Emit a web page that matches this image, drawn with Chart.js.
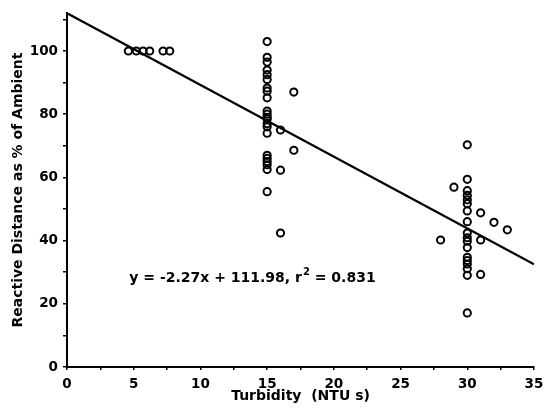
<!DOCTYPE html>
<html>
<head>
<meta charset="utf-8">
<script src="https://cdn.jsdelivr.net/npm/chart.js@4.4.0/dist/chart.umd.min.js"></script>
<style>
  html, body { margin: 0; padding: 0; background: #fff; }
  #wrap { width: 553px; height: 419px; }
</style>
</head>
<body>
<div id="wrap"><canvas id="turbChart" width="553" height="419"></canvas></div>
<script>
// Observations: turbidity (NTU) vs reactive distance (% of ambient)
const turbidity = [
    4.6, 5.2, 5.7, 6.2, 7.2, 7.7,
    15, 15, 15, 15, 15, 15, 15, 15, 15, 15, 15, 15, 15, 15, 15, 15, 15, 15, 15, 15, 15, 15,
    16, 16, 16, 17, 17,
    30, 30, 30, 30, 30, 30, 30, 30, 30, 30, 30, 30, 30, 30, 30, 30, 30, 30,
    28, 29, 31, 31, 31, 32, 33
];
const reactiveDistance = [
    100, 100, 100, 100, 100, 100,
    103, 98, 96.5, 94, 92.5, 91, 88.3, 87.3, 85.2, 81, 80, 79, 78.5, 77, 76, 74, 67, 66, 65, 64, 62.5, 55.5,
    75, 62.3, 42.4, 87, 68.6,
    70.3, 59.4, 55.8, 54.3, 52.9, 51.7, 49.4, 46, 42.4, 40.9, 39.8, 37.8, 34.7, 33.7, 32.6, 31.1, 29, 17.1,
    40.2, 56.9, 48.8, 40.2, 29.3, 45.8, 43.4
];

// Fitted line: y = -2.27x + 111.98
const fitSlope = -2.27;
const fitIntercept = 111.98;
const fitRange = [0, 35];
const fitText = ['y = -2.27x + 111.98, r', '2', ' = 0.831'];

const xTickLabels = [0, 5, 10, 15, 20, 25, 30, 35];
const yTickLabels = [0, 20, 40, 60, 80, 100];

const points = turbidity.map((t, i) => ({ x: t, y: reactiveDistance[i] }));
const fitLine = fitRange.map(x => ({ x: x, y: fitSlope * x + fitIntercept }));

const FONT = 'DejaVu Sans';
const labelFont = { family: FONT, size: 13.5, weight: 'bold' };
const titleFont = { family: FONT, size: 14, weight: 'bold' };

// equation label, anchored in data units, with a raised "2"
const equationText = {
    id: 'equationText',
    afterDraw(chart) {
        const c = chart.ctx;
        const cx = chart.scales.x.getPixelForValue(13.9);
        const cy = chart.scales.y.getPixelForValue(27.9);
        c.save();
        c.fillStyle = '#000';
        c.textBaseline = 'middle';
        c.textAlign = 'left';
        const big = 'bold 14px "DejaVu Sans"';
        const small = 'bold 10px "DejaVu Sans"';
        c.font = big;
        const w0 = c.measureText(fitText[0]).width;
        const w2 = c.measureText(fitText[2]).width;
        c.font = small;
        const w1 = c.measureText(fitText[1]).width + 1;
        let x = cx - (w0 + w1 + w2) / 2;
        c.font = big;
        c.fillText(fitText[0], x, cy);
        x += w0 + 1;
        c.font = small;
        c.fillText(fitText[1], x, cy - 6);
        x += w1 - 1;
        c.font = big;
        c.fillText(fitText[2], x, cy);
        c.restore();
    }
};

const ctx = document.getElementById('turbChart').getContext('2d');
const turbChart = new Chart(ctx, {
    type: 'scatter',
    data: {
        datasets: [{
            label: 'Observations',
            data: points,
            pointStyle: 'circle',
            pointRadius: 3.6,
            pointBorderWidth: 2,
            borderColor: '#000',
            backgroundColor: 'rgba(0,0,0,0)'
        }, {
            type: 'line',
            label: 'Fit',
            data: fitLine,
            borderColor: '#000',
            borderWidth: 2.2,
            pointRadius: 0,
            fill: false
        }]
    },
    options: {
        responsive: false,
        animation: false,
        layout: { padding: { top: 5, right: 19, left: 0, bottom: 0 } },
        plugins: {
            legend: { display: false },
            tooltip: { enabled: false }
        },
        scales: {
            x: {
                type: 'linear',
                min: 0,
                max: 35,
                afterBuildTicks: axis => {
                    const t = [];
                    for (let v = 0; v <= 35; v += 2.5) t.push({ value: v });
                    axis.ticks = t;
                },
                afterFit: axis => { axis.height = 52; },
                ticks: {
                    color: '#000',
                    font: labelFont,
                    padding: 6,
                    autoSkip: false,
                    maxRotation: 0,
                    callback: v => xTickLabels.includes(v) ? String(v) : ''
                },
                grid: { display: true, drawOnChartArea: false, drawTicks: true, tickLength: 3, color: '#000', lineWidth: 1.5 },
                border: { color: '#000', width: 2 },
                title: { display: true, text: 'Turbidity  (NTU s)', color: '#000', font: titleFont, padding: { top: 0, bottom: 14 } }
            },
            y: {
                min: 0,
                max: 112,
                afterBuildTicks: axis => {
                    const t = [];
                    for (let v = 0; v <= 110; v += 10) t.push({ value: v });
                    axis.ticks = t;
                },
                afterFit: axis => { axis.width = 67; },
                ticks: {
                    color: '#000',
                    font: labelFont,
                    padding: 5,
                    autoSkip: false,
                    callback: v => yTickLabels.includes(v) ? String(v) : ''
                },
                grid: { display: true, drawOnChartArea: false, drawTicks: true, tickLength: 4, color: '#000', lineWidth: 1.5 },
                border: { color: '#000', width: 2 },
                title: { display: true, text: 'Reactive Distance as % of Ambient', color: '#000', font: titleFont, padding: { top: 10, bottom: 0 } }
            }
        }
    },
    plugins: [equationText]
});
</script>
</body>
</html>
